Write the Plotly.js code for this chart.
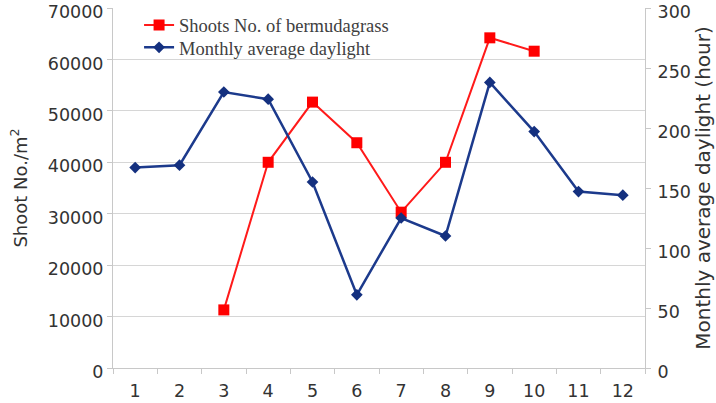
<!DOCTYPE html>
<html>
<head>
<meta charset="utf-8">
<script src="https://cdn.plot.ly/plotly-3.0.1.min.js"></script>
<style>html,body{margin:0;padding:0;background:#fff;}#chart{width:716px;height:403px;}</style>
</head>
<body>
<div id="chart"></div>
<script>
const months = ['1','2','3','4','5','6','7','8','9','10','11','12'];
const shoots = [null, null, 11300, 40000, 51700, 43800, 30300, 40000, 64200, 61600, null, null];
const daylight = [167, 169, 230, 224, 155, 61, 125, 110, 238, 197, 147, 144];
const leftTicks = [0, 10000, 20000, 30000, 40000, 50000, 60000, 70000];
const rightTicks = [0, 50, 100, 150, 200, 250, 300];

const sans = 'DejaVu Sans, Verdana, sans-serif';
const tickFont = {family: sans, size: 17.5, color: '#333'};
const legFont = {family: 'Liberation Serif, Times New Roman, serif', size: 18.5, color: '#404040'};

const traces = [
  {
    x: months, y: shoots, name: 'Shoots No. of bermudagrass', legend: 'legend',
    type: 'scatter', mode: 'lines+markers', yaxis: 'y', connectgaps: false,
    line: {color: '#ff1a1a', width: 2},
    marker: {symbol: 'square', size: 11, color: '#ff0000'}
  },
  {
    x: months, y: daylight, name: 'Monthly average daylight', legend: 'legend2',
    type: 'scatter', mode: 'lines+markers', yaxis: 'y2',
    line: {color: '#1c3a8c', width: 2.5},
    marker: {symbol: 'diamond', size: 9, color: '#14307f'}
  }
];

const layout = {
  width: 716, height: 403,
  margin: {l: 113, r: 71, t: 6, b: 35},
  paper_bgcolor: '#fff', plot_bgcolor: '#fff',
  showlegend: true,
  legend: {
    x: 0.049, y: 0.9515, xanchor: 'left', yanchor: 'middle',
    bgcolor: 'rgba(255,255,255,0)', borderwidth: 0,
    font: legFont, itemwidth: 30
  },
  legend2: {
    x: 0.049, y: 0.8895, xanchor: 'left', yanchor: 'middle',
    bgcolor: 'rgba(255,255,255,0)', borderwidth: 0,
    font: legFont, itemwidth: 30
  },
  xaxis: {
    type: 'category', categoryorder: 'array', categoryarray: months,
    range: [-0.5, 11.5],
    showgrid: false, showline: true, linecolor: '#c8c8c8', linewidth: 1,
    ticks: 'outside', tickson: 'boundaries', ticklen: 5, tickcolor: '#c8c8c8',
    tickfont: tickFont, ticklabelstandoff: 7, zeroline: false, automargin: false
  },
  yaxis: {
    range: [0, 70000], tickvals: leftTicks, tickformat: 'd',
    showgrid: true, gridcolor: '#d6d6d6', gridwidth: 1,
    showline: true, linecolor: '#c8c8c8', linewidth: 1,
    ticks: 'outside', ticklen: 5, tickcolor: '#c8c8c8',
    tickfont: tickFont, ticklabelshift: 4, ticklabeloverflow: 'allow',
    zeroline: false, automargin: false,
    title: {text: 'Shoot No./m<sup>2</sup>', font: {family: sans, size: 18, color: '#333'}, standoff: 15}
  },
  yaxis2: {
    overlaying: 'y', side: 'right', anchor: 'x',
    range: [0, 300], tickvals: rightTicks,
    showgrid: false, showline: true, linecolor: '#c8c8c8', linewidth: 1,
    ticks: 'outside', ticklen: 5, tickcolor: '#c8c8c8',
    tickfont: tickFont, ticklabelshift: 4, ticklabelstandoff: 3, ticklabeloverflow: 'allow',
    zeroline: false, automargin: false,
    title: {text: 'Monthly average daylight (hour)', font: {family: sans, size: 20, color: '#333'}, standoff: 5}
  }
};

Plotly.newPlot('chart', traces, layout, {displayModeBar: false, staticPlot: true});
</script>
</body>
</html>
